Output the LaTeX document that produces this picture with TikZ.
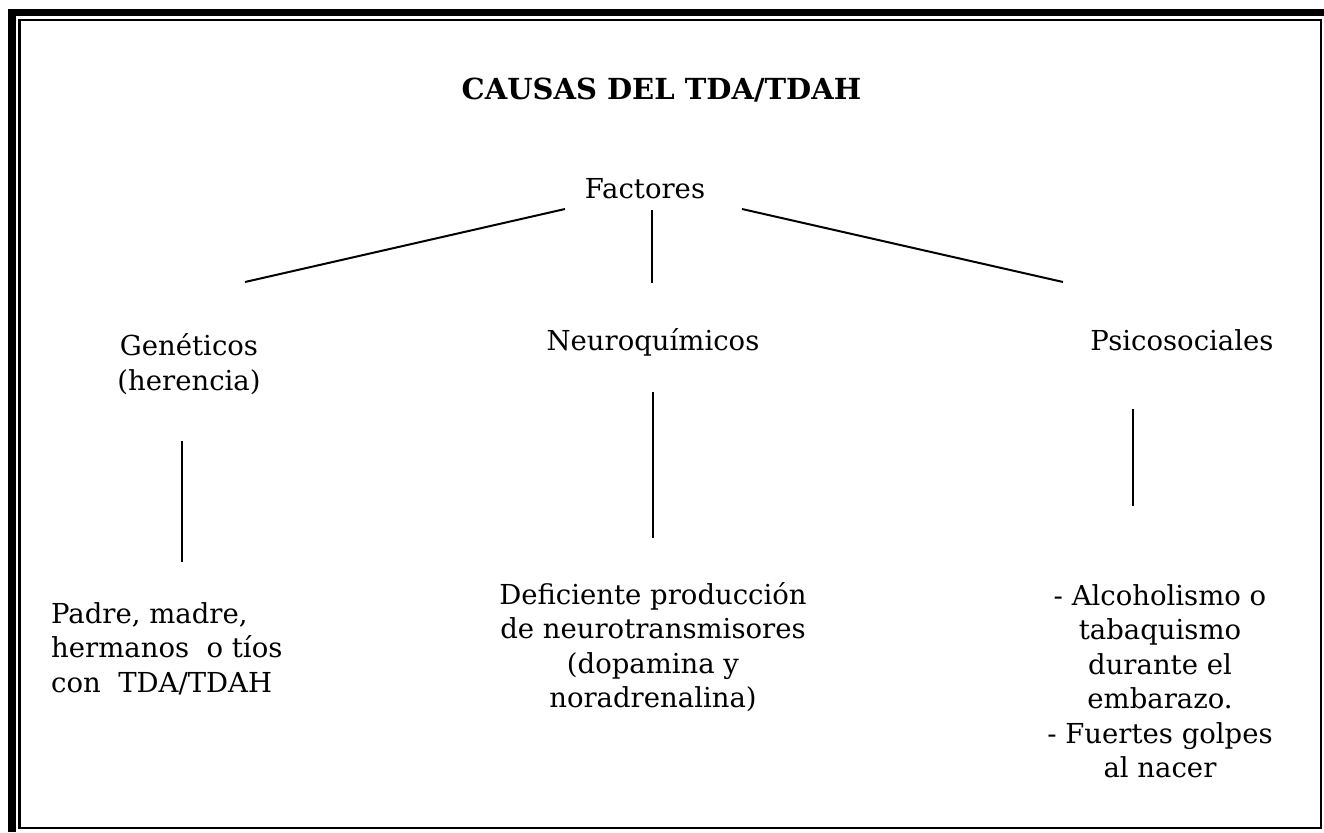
\documentclass[tikz,border=0pt]{standalone}
\usepackage{fontspec}
\setmainfont{DejaVu Serif}
\begin{document}
\begin{tikzpicture}[x=1bp,y=-1bp,
  txt/.style={inner sep=0pt, anchor=base, align=center, font=\fontsize{27.5bp}{34.5bp}\selectfont},
  lnk/.style={line width=2bp}]
\useasboundingbox (0,0) rectangle (1324,832);
% border
\draw[line width=7.5bp] (12.2,832) -- (12.2,12.6) -- (1324,12.6);
\draw[line width=2.2bp] (19.5,20.3) rectangle (1321,828.3);
% texts (multi-line nodes are placed by the baseline of their last line)
\node[txt, font=\fontsize{29bp}{34.5bp}\selectfont\bfseries] (title) at (661.5,99) {CAUSAS DEL TDA/TDAH};
\node[txt] (fac) at (645,198) {Factores};
\node[txt] (gen) at (189,390) {Genéticos\\(herencia)};
\node[txt] (neu) at (653,350) {Neuroquímicos};
\node[txt] (psi) at (1182,350) {Psicosociales};
\node[txt, align=left, anchor=base west] (pad) at (51,692) {Padre, madre,\\hermanos\ \ o tíos\\con\ \ TDA/TDAH};
\node[txt] (def) at (653,707.5) {Deficiente producción\\de neurotransmisores\\(dopamina y\\noradrenalina)};
\node[txt] (alc) at (1160,777.5) {- Alcoholismo o\\tabaquismo\\durante el\\embarazo.\\- Fuertes golpes\\al nacer};
% connector points
\coordinate (f1) at (565,209); \coordinate (g1) at (245,282);
\coordinate (f2) at (652,210); \coordinate (n1) at (652,283);
\coordinate (f3) at (742,209); \coordinate (p1) at (1063,282);
\coordinate (g2) at (182,441); \coordinate (g3) at (182,562);
\coordinate (n2) at (653,392); \coordinate (n3) at (653,538);
\coordinate (p2) at (1133,409); \coordinate (p3) at (1133,506);
\draw[lnk] (f1) -- (g1);
\draw[lnk] (f2) -- (n1);
\draw[lnk] (f3) -- (p1);
\draw[lnk] (g2) -- (g3);
\draw[lnk] (n2) -- (n3);
\draw[lnk] (p2) -- (p3);
\end{tikzpicture}
\end{document}
